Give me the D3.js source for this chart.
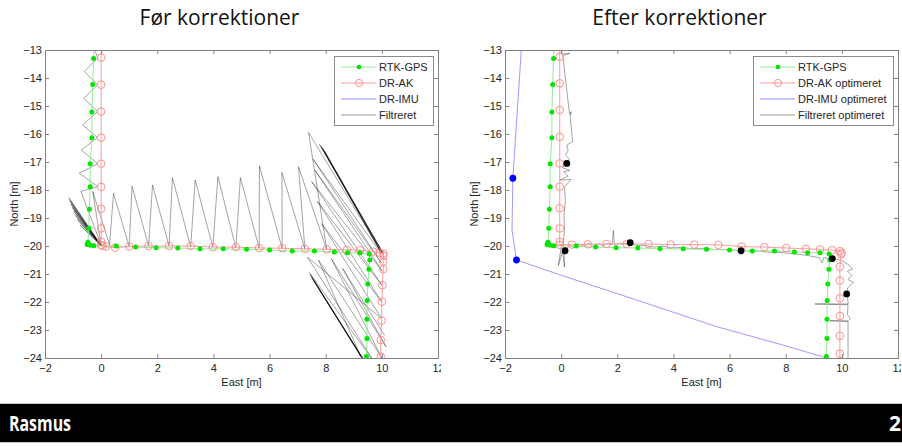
<!DOCTYPE html>
<html lang="en">
<head>
<meta charset="utf-8"/>
<title>Før og efter korrektioner</title>
<script src="https://d3js.org/d3.v7.min.js" charset="utf-8"></script>
<style>
  body { margin: 0; background: #fff; }
  svg { display: block; }
  .title { font-family: "Open Sans", "Noto Sans", sans-serif; font-size: 21px; fill: #111; }
  .axis text, .label, .legend text { font-family: "Liberation Sans", Arial, sans-serif; fill: #262626; }
  .axis text { font-size: 11px; }
  .axis .domain { display: none; }
  .axis line { stroke: #808080; }
  .frame { fill: none; stroke: #808080; }
  .label { font-size: 11px; }
  .legend text { font-size: 11px; }
  .footer { font-family: "Open Sans", "Liberation Sans", sans-serif; font-weight: bold; font-size: 21px; fill: #fff; }
</style>
</head>
<body>
<svg id="slide" width="902" height="446"></svg>
<script>
// axis ticks
var xTicks = [-2, 0, 2, 4, 6, 8, 10, 12],
    yTicks = [-13, -14, -15, -16, -17, -18, -19, -20, -21, -22, -23, -24];

var titles = ["Før korrektioner", "Efter korrektioner"];
var legendBefore = ["RTK-GPS", "DR-AK", "DR-IMU", "Filtreret"],
    legendAfter = ["RTK-GPS", "DR-AK optimeret", "DR-IMU optimeret", "Filtreret optimeret"];
var presenter = "Rasmus", pageNo = "2";

// [east, north] in metres
var rtkGps = [[-0.24,-12.4],[-0.27,-13.3],[-0.30,-14.23],[-0.33,-15.21],[-0.33,-16.13],[-0.39,-17.06],[-0.39,-17.88],
  [-0.42,-18.69],[-0.44,-19.37],[-0.47,-19.87],[-0.5,-19.95],[-0.38,-19.97],[-0.26,-19.99],[0.54,-20.0],[1.23,-20.04],
  [1.96,-20.06],[2.73,-20.07],[3.52,-20.1],[4.35,-20.1],[5.18,-20.12],[6.0,-20.14],[6.81,-20.18],[7.6,-20.18],
  [8.31,-20.21],[8.78,-20.24],[9.22,-20.24],[9.55,-20.29],[9.57,-20.5],[9.54,-20.83],[9.5,-21.36],[9.48,-21.95],
  [9.47,-22.62],[9.47,-23.3],[9.45,-23.95]];

var drAk = [[0,-12.4],[0,-13.27],[0,-14.24],[0,-15.2],[0,-16.13],[0,-17.06],[0,-17.89],[0,-18.67],[0,-19.37],[0,-19.85],
  [0,-19.97],[0.05,-20.0],[0.18,-20.02],[0.5,-20.06],[1.0,-20.02],[1.69,-20.0],[2.42,-20.0],[3.19,-20.0],[3.98,-20.04],
  [4.8,-20.04],[5.63,-20.07],[6.45,-20.08],[7.26,-20.1],[8.04,-20.12],[8.75,-20.14],[9.22,-20.15],[9.69,-20.2],
  [9.93,-20.24],[10.05,-20.27],[10.06,-20.35],[10.05,-20.56],[10.05,-20.83],[10.02,-21.4],[10.0,-21.99],[9.99,-22.67],
  [9.96,-23.36],[9.96,-23.95],[9.95,-24.6]];

var drAkOpt = [[-0.05,-12.4],[-0.05,-13.24],[-0.05,-14.19],[-0.05,-15.14],[-0.05,-16.1],[-0.05,-17.05],[-0.05,-17.88],
  [-0.05,-18.65],[-0.05,-19.37],[-0.05,-19.85],[-0.04,-19.96],[0.38,-19.95],[0.95,-19.94],[1.62,-19.93],[2.34,-19.93],
  [3.11,-19.93],[3.9,-19.95],[4.74,-19.95],[5.6,-19.96],[6.43,-20.02],[7.24,-20.04],[8.02,-20.07],[8.72,-20.1],
  [9.22,-20.12],[9.65,-20.15],[9.93,-20.18],[9.99,-20.24],[9.97,-20.3],[9.93,-20.74],[9.93,-21.23],[9.93,-21.87],
  [9.93,-22.5],[9.93,-23.21],[9.93,-23.85],[9.93,-24.6]];

var drImuOpt = [[-1.42,-13.0],[-1.72,-17.58],[-1.75,-19.43],[-1.59,-20.5],[0.08,-21.07],[2.69,-21.93],[5.54,-22.88],
  [7.91,-23.54],[9.46,-24.0]];
var drImuOptMarks = [[-1.72,-17.58],[-1.59,-20.5]];

var filt = [[-0.38,-12.6],[-0.12,-13.28],[-0.6,-13.77],[-0.12,-14.24],[-0.62,-14.73],[-0.12,-15.2],[-0.66,-15.68],
  [-0.12,-16.13],[-0.71,-16.57],[-0.12,-17.06],[-0.78,-17.4],[-0.12,-17.88],
  [-0.72,-18.05],[0.0,-19.96],[-1.15,-18.28],[-0.02,-19.98],[-1.12,-18.38],[0.0,-20.0],[-1.08,-18.5],[-0.01,-19.97],
  [-1.03,-18.62],[0.0,-20.0],[-0.98,-18.75],[0.01,-19.98],[-0.92,-18.9],[0.0,-20.0],[-0.85,-19.05],[0.02,-19.99],
  [-0.75,-19.25],[0.0,-20.0],[-0.3,-18.05],[0.3,-19.96],
  [0.44,-18.12],[1.0,-20.02],[1.1,-17.86],[1.69,-20.0],[1.83,-17.82],[2.42,-20.0],[2.54,-17.56],[3.19,-20.04],
  [3.35,-17.64],[3.98,-20.04],[4.16,-17.52],[4.8,-20.07],[4.96,-17.56],[5.63,-20.08],[5.64,-17.14],[6.45,-20.1],
  [6.44,-17.37],[7.26,-20.12],[7.03,-17.17],[8.04,-20.14],
  [7.39,-15.95],[10.0,-20.25],[7.78,-16.37],[10.02,-20.22],[7.84,-16.45],[10.0,-20.27],[7.9,-16.52],[10.03,-20.24],
  [7.95,-16.6],[10.0,-20.3],[7.55,-16.9],[9.98,-20.6],[7.62,-17.3],[10.02,-20.9],[7.5,-17.7],[10.0,-21.4],
  [7.7,-18.4],[10.0,-22.0],[7.85,-19.2],[10.0,-22.6],
  [7.35,-20.4],[9.7,-24.1],[7.42,-20.95],[9.3,-24.0],[7.46,-21.05],[9.33,-24.05],[7.52,-21.15],[9.38,-24.1],
  [7.58,-21.25],[9.25,-23.95],[7.74,-20.5],[10.0,-24.0],[8.2,-20.45],[10.15,-23.6],[8.6,-20.8],[10.1,-23.2]];

var filtOpt = [[0.0,-12.9],[0.03,-13.15],[0.3,-13.12],[0.06,-13.2],[0.22,-14.6],[0.3,-15.3],[0.36,-15.2],[0.32,-15.4],
  [0.41,-16.27],[0.2,-16.4],[0.25,-16.6],[0.15,-16.75],[0.3,-16.9],[0.2,-17.05],[0.05,-17.2],[0.3,-17.3],[0.1,-17.35],
  [0.25,-17.5],[-0.05,-17.65],[0.35,-17.62],[0.12,-17.9],[0.15,-18.4],[0.1,-18.9],[0.12,-19.4],[0.08,-19.85],
  [0.0,-20.05],[-0.1,-20.7],[0.05,-20.2],[0.12,-20.75],[0.1,-20.1],[0.2,-20.05],[0.3,-19.98],[0.45,-20.05],[0.6,-19.93],
  [0.8,-20.0],[1.0,-19.9],[1.15,-20.02],[1.35,-19.92],[1.5,-20.0],[1.65,-19.9],[1.82,-19.95],[1.86,-19.45],[1.9,-19.95],
  [2.1,-19.9],[2.3,-19.92],[2.46,-19.88],[2.7,-19.98],[3.0,-19.98],[3.3,-20.04],[3.6,-20.0],[3.9,-20.07],[4.3,-20.05],
  [4.7,-20.1],[5.1,-20.08],[5.5,-20.13],[5.9,-20.12],[6.41,-20.17],[6.9,-20.17],[7.4,-20.22],[7.9,-20.24],[8.5,-20.3],
  [8.9,-20.36],[9.2,-20.42],[9.3,-20.6],[9.35,-20.42],[9.66,-20.45],[9.85,-20.48],[10.05,-20.55],[10.25,-20.68],
  [10.38,-20.82],[10.2,-20.9],[10.35,-21.05],[10.22,-21.2],[10.42,-21.3],[10.2,-21.5],[10.17,-21.71],[10.22,-22.0],
  [10.22,-22.07],[9.04,-22.07],[10.22,-22.1],[10.2,-22.45],[10.3,-22.6],[10.22,-22.67],[9.57,-22.67],[10.22,-22.7],
  [10.22,-23.5],[10.22,-24.3]];
var filtOptMarks = [[0.2,-17.05],[0.14,-20.17],[2.46,-19.88],[6.41,-20.17],[9.66,-20.45],[10.17,-21.71]];

var width = 393, height = 308;

var x = d3.scaleLinear().domain([-2, 12]).range([0, width]);
var y = d3.scaleLinear().domain([-13, -24]).range([0, height]);
var line = d3.line().x(function(d) { return x(d[0]); }).y(function(d) { return y(d[1]); });

var col = {
  gpsLine: "#92ee92", gpsDot: "#00e600",
  akLine: "#ff9c9c", akMark: "#ff8585",
  imuLine: "#8f8fff", imuDot: "#0000ff",
  filt: "#000"
};

var svg = d3.select("#slide");
svg.append("rect").attr("width", 902).attr("height", 446).attr("fill", "#fff");

function drawPanel(px, id, title, names, legendW, ak, imu, imuMarks, fl, flMarks) {
  var defs = svg.append("defs");
  defs.append("clipPath").attr("id", "plot" + id)
    .append("rect").attr("width", width).attr("height", height);
  defs.append("clipPath").attr("id", "panel" + id)
    .append("rect").attr("x", -60).attr("y", -60).attr("width", 456).attr("height", 420);

  var g = svg.append("g")
    .attr("transform", "translate(" + px + ",50)")
    .attr("clip-path", "url(#panel" + id + ")");

  svg.append("text").attr("class", "title")
    .attr("x", px + width / 2 - 22).attr("y", 25)
    .attr("text-anchor", "middle")
    .text(title);

  var plot = g.append("g").attr("clip-path", "url(#plot" + id + ")");

  // black filtered track first, coloured tracks on top
  plot.append("path").datum(fl)
    .attr("fill", "none").attr("stroke", col.filt).attr("stroke-width", 0.6)
    .attr("stroke-opacity", 0.6)
    .attr("d", line);

  if (imu) {
    plot.append("path").datum(imu)
      .attr("fill", "none").attr("stroke", col.imuLine).attr("stroke-width", 0.9)
      .attr("d", line);
  }

  plot.append("path").datum(rtkGps)
    .attr("fill", "none").attr("stroke", col.gpsLine).attr("stroke-width", 1)
    .attr("d", line);
  plot.append("path").datum(ak)
    .attr("fill", "none").attr("stroke", col.akLine).attr("stroke-width", 1)
    .attr("d", line);

  plot.selectAll(".ak").data(ak).enter().append("circle")
    .attr("cx", function(d) { return x(d[0]); })
    .attr("cy", function(d) { return y(d[1]); })
    .attr("r", 3.8)
    .attr("fill", "none").attr("stroke", col.akMark).attr("stroke-width", 0.9);

  plot.selectAll(".gps").data(rtkGps).enter().append("circle")
    .attr("cx", function(d) { return x(d[0]); })
    .attr("cy", function(d) { return y(d[1]); })
    .attr("r", 2.5)
    .attr("fill", col.gpsDot);

  if (imuMarks) {
    plot.selectAll(".imu").data(imuMarks).enter().append("circle")
      .attr("cx", function(d) { return x(d[0]); })
      .attr("cy", function(d) { return y(d[1]); })
      .attr("r", 3.4).attr("fill", col.imuDot);
  }
  if (flMarks) {
    plot.selectAll(".flm").data(flMarks).enter().append("circle")
      .attr("cx", function(d) { return x(d[0]); })
      .attr("cy", function(d) { return y(d[1]); })
      .attr("r", 3.4).attr("fill", "#000");
  }

  // MATLAB style axes: box with inward ticks on all sides
  g.append("g").attr("class", "axis")
    .attr("transform", "translate(0," + height + ")")
    .call(d3.axisBottom(x).tickValues(xTicks).tickSizeInner(-4).tickSizeOuter(0).tickPadding(6));
  g.append("g").attr("class", "axis")
    .call(d3.axisTop(x).tickValues(xTicks).tickSizeInner(-4).tickSizeOuter(0).tickFormat(""));
  g.append("g").attr("class", "axis")
    .call(d3.axisLeft(y).tickValues(yTicks).tickSizeInner(-4).tickSizeOuter(0).tickPadding(3));
  g.append("g").attr("class", "axis")
    .attr("transform", "translate(" + width + ",0)")
    .call(d3.axisRight(y).tickValues(yTicks).tickSizeInner(-4).tickSizeOuter(0).tickFormat(""));

  g.append("rect").attr("class", "frame")
    .attr("x", 0.5).attr("y", 0.5).attr("width", width).attr("height", height);

  g.append("text").attr("class", "label")
    .attr("x", width / 2).attr("y", height + 28)
    .attr("text-anchor", "middle").text("East [m]");
  g.append("text").attr("class", "label")
    .attr("transform", "translate(" + (-27) + "," + (height / 2) + ") rotate(-90)")
    .attr("text-anchor", "middle").text("North [m]");

  // legend
  var lx = width - 5 - legendW, ly = 6;
  var legend = g.append("g").attr("class", "legend").attr("transform", "translate(" + lx + "," + ly + ")");
  legend.append("rect").attr("x", 0.5).attr("y", 0.5).attr("width", legendW).attr("height", 69)
    .attr("fill", "#fff").attr("stroke", "#8c8c8c");
  var rows = legend.selectAll(".row").data(names).enter().append("g")
    .attr("transform", function(d, i) { return "translate(0," + (11 + i * 16) + ")"; });
  var lineCols = [col.gpsLine, col.akLine, col.imuLine, "#9a9a9a"];
  rows.append("line").attr("x1", 7).attr("x2", 42)
    .attr("stroke", function(d, i) { return lineCols[i]; }).attr("stroke-width", 1);
  rows.filter(function(d, i) { return i === 0; }).append("circle")
    .attr("cx", 25).attr("r", 2.3).attr("fill", col.gpsDot);
  rows.filter(function(d, i) { return i === 1; }).append("circle")
    .attr("cx", 25).attr("r", 3.6).attr("fill", "none").attr("stroke", col.akMark).attr("stroke-width", 0.9);
  rows.append("text").attr("x", 45).attr("dy", "0.35em").text(function(d) { return d; });
}

drawPanel(45, 0, titles[0], legendBefore, 99, drAk, null, null, filt, null);
drawPanel(505, 1, titles[1], legendAfter, 140, drAkOpt, drImuOpt, drImuOptMarks, filtOpt, filtOptMarks);

// footer bar
svg.append("rect").attr("x", 0).attr("y", 404).attr("width", 902).attr("height", 38).attr("fill", "#000");
svg.append("line").attr("x1", 0).attr("x2", 902).attr("y1", 403.5).attr("y2", 403.5).attr("stroke", "#c8c8c8");
svg.append("line").attr("x1", 0).attr("x2", 902).attr("y1", 442.5).attr("y2", 442.5).attr("stroke", "#c8c8c8");
svg.append("text").attr("class", "footer").attr("x", 9).attr("y", 431)
  .attr("textLength", 62).attr("lengthAdjust", "spacingAndGlyphs").text(presenter);
svg.append("text").attr("class", "footer").attr("x", 889).attr("y", 431).text(pageNo);
</script>
</body>
</html>
